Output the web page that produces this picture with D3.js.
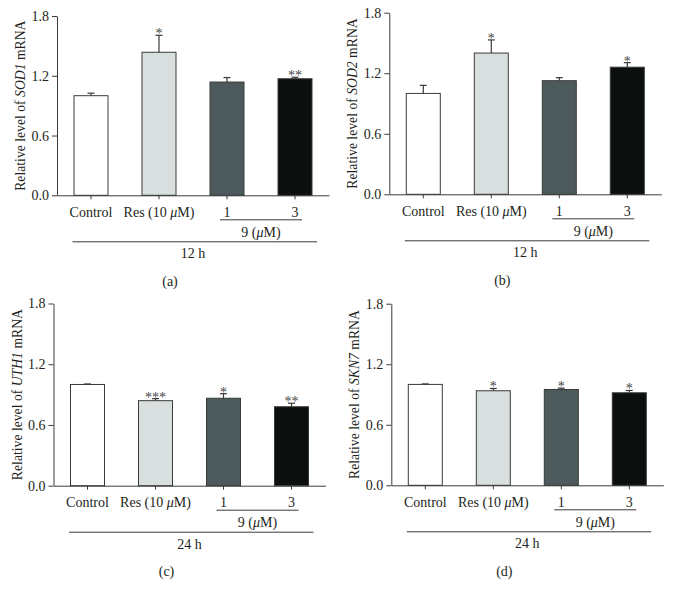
<!DOCTYPE html>
<html>
<head>
<meta charset="utf-8">
<script src="https://cdn.jsdelivr.net/npm/d3@7"></script>
<style>
  html, body { margin: 0; padding: 0; background: #fff; }
  svg { display: block; }
</style>
</head>
<body>
<svg id="chart" width="674" height="595" font-family="Liberation Serif, Times New Roman, serif"></svg>
<script>
// ---- data ----
const categories = ["Control", "Res (10 μM)", "1", "3"];
const panelLetters = ["(a)", "(b)", "(c)", "(d)"];
const genes = ["SOD1", "SOD2", "UTH1", "SKN7"];
const timeLabels = ["12 h", "12 h", "24 h", "24 h"];
const groupLabel = "9 (μM)";
const yTicks = [0, 0.6, 1.2, 1.8];

const meansA = [1.0, 1.436, 1.137, 1.17];
const errsA  = [0.025, 0.17, 0.045, 0.015];
const starsA = ["", "*", "", "**"];

const meansB = [1.0, 1.40, 1.126, 1.26];
const errsB  = [0.08, 0.13, 0.03, 0.045];
const starsB = ["", "*", "", "*"];

const meansC = [1.0, 0.84, 0.864, 0.78];
const errsC  = [0.005, 0.02, 0.045, 0.035];
const starsC = ["", "***", "*", "**"];

const meansD = [1.0, 0.937, 0.95, 0.917];
const errsD  = [0.005, 0.023, 0.013, 0.023];
const starsD = ["", "*", "*", "*"];

const barColors = ["#ffffff", "#d8dfde", "#4c5a5c", "#0b0f0e"];

// ---- layout ----
const layouts = [
  { ax: 57,    top: 16,    zero: 195.3 },
  { ax: 389.3, top: 12.7,  zero: 194.3 },
  { ax: 53.5,  top: 303.5, zero: 485.7 },
  { ax: 391.3, top: 303.7, zero: 485.3 }
];
const axisLen = 272;
const ink = "#3a3a3a";
const txt = "#231f20";
const fs = 14;

const allMeans = [meansA, meansB, meansC, meansD];
const allErrs = [errsA, errsB, errsC, errsD];
const allStars = [starsA, starsB, starsC, starsD];

const svg = d3.select("#chart");

function richText(sel, str) {
  const parts = str.split("μ");
  parts.forEach((p, i) => {
    if (i > 0) sel.append("tspan").attr("font-style", "italic").text("μ");
    if (p.length) sel.append("tspan").text(p);
  });
}

layouts.forEach((L, pi) => {
  const g = svg.append("g");
  const means = allMeans[pi], errs = allErrs[pi], stars = allStars[pi];

  const x = d3.scaleBand().domain(categories)
    .range([L.ax, L.ax + axisLen]).paddingInner(0.5).paddingOuter(0.25);
  const y = d3.scaleLinear().domain([0, 1.8]).range([L.zero, L.top]);

  // y axis
  const yAxis = g.append("g").attr("transform", `translate(${L.ax},0)`)
    .call(d3.axisLeft(y).tickValues(yTicks).tickFormat(d3.format(".1f"))
      .tickSize(5).tickSizeOuter(0).tickPadding(3));
  yAxis.attr("font-family", null);
  yAxis.select(".domain").attr("stroke", ink);
  yAxis.selectAll(".tick line").attr("stroke", ink);
  yAxis.selectAll(".tick text").attr("font-size", fs).attr("fill", txt);

  // bars
  g.selectAll("rect.bar").data(categories).enter().append("rect")
    .attr("class", "bar")
    .attr("x", d => x(d))
    .attr("width", x.bandwidth())
    .attr("y", (d, i) => y(means[i]))
    .attr("height", (d, i) => L.zero - y(means[i]))
    .attr("fill", (d, i) => barColors[i])
    .attr("stroke", ink).attr("stroke-width", 1);

  // error bars
  categories.forEach((c, i) => {
    const cx = x(c) + x.bandwidth() / 2;
    const yt = y(means[i] + errs[i]);
    g.append("line").attr("x1", cx).attr("x2", cx)
      .attr("y1", y(means[i])).attr("y2", yt)
      .attr("stroke", ink).attr("stroke-width", 1.2);
    g.append("line").attr("x1", cx - 3.5).attr("x2", cx + 3.5)
      .attr("y1", yt).attr("y2", yt)
      .attr("stroke", ink).attr("stroke-width", 1.2);
    if (stars[i]) {
      g.append("text").attr("x", cx).attr("y", yt + 3)
        .attr("text-anchor", "middle").attr("font-size", fs)
        .attr("fill", "#444").text(stars[i]);
    }
  });

  // x axis
  const xAxis = g.append("g").attr("transform", `translate(0,${L.zero})`)
    .call(d3.axisBottom(x).tickSize(4).tickSizeOuter(0).tickFormat(""));
  xAxis.select(".domain").attr("stroke", ink);
  xAxis.selectAll(".tick line").attr("stroke", ink);

  // category labels
  categories.forEach(c => {
    const t = g.append("text")
      .attr("x", x(c) + x.bandwidth() / 2)
      .attr("y", L.zero + 21.5)
      .attr("text-anchor", "middle").attr("font-size", fs).attr("fill", txt);
    richText(t, c);
  });

  const c0 = x(categories[0]) + x.bandwidth() / 2;
  const c2 = x(categories[2]) + x.bandwidth() / 2;
  const c3 = x(categories[3]) + x.bandwidth() / 2;

  // group underline and label
  g.append("line").attr("x1", c2 - 7).attr("x2", c3 + 7)
    .attr("y1", L.zero + 24.5).attr("y2", L.zero + 24.5)
    .attr("stroke", ink).attr("stroke-width", 1);
  const gl = g.append("text").attr("x", (c2 + c3) / 2).attr("y", L.zero + 41.5)
    .attr("text-anchor", "middle").attr("font-size", fs).attr("fill", txt);
  richText(gl, groupLabel);

  // time line and label
  g.append("line").attr("x1", c0 - 18.5).attr("x2", c3 + 22)
    .attr("y1", L.zero + 46.5).attr("y2", L.zero + 46.5)
    .attr("stroke", ink).attr("stroke-width", 1);
  g.append("text").attr("x", (c0 + c3) / 2).attr("y", L.zero + 63)
    .attr("text-anchor", "middle").attr("font-size", fs).attr("fill", txt)
    .text(timeLabels[pi]);

  // panel letter
  g.append("text").attr("x", L.ax + 113).attr("y", L.zero + 90.5)
    .attr("text-anchor", "middle").attr("font-size", fs).attr("fill", txt)
    .text(panelLetters[pi]);

  // y title
  const tx = L.ax - 37, ty = (L.top + L.zero) / 2;
  const title = g.append("text")
    .attr("transform", `translate(${tx},${ty}) rotate(-90)`)
    .attr("text-anchor", "middle").attr("dominant-baseline", "central")
    .attr("font-size", 13.7).attr("fill", txt);
  title.append("tspan").text("Relative level of ");
  title.append("tspan").attr("font-style", "italic").text(genes[pi]);
  title.append("tspan").text(" mRNA");
});
</script>
</body>
</html>
